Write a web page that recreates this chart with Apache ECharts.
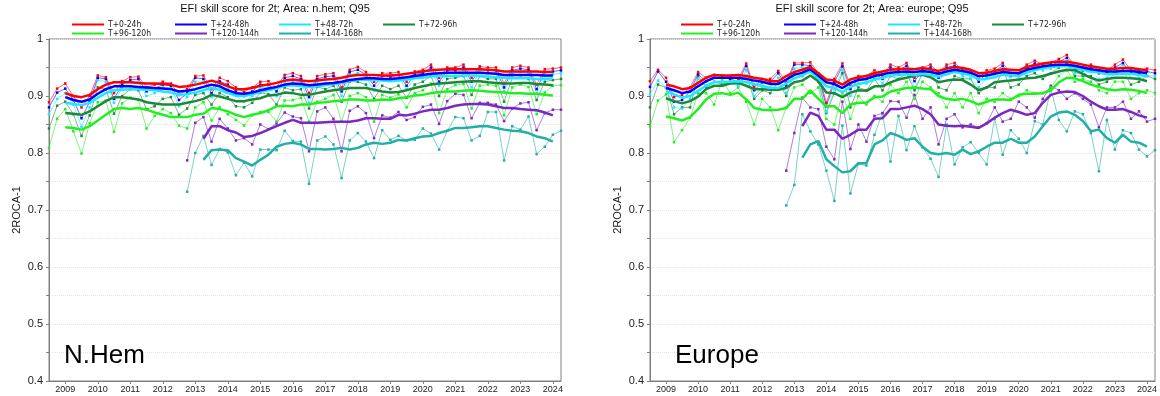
<!DOCTYPE html>
<html>
<head>
<meta charset="utf-8">
<script src="https://cdn.jsdelivr.net/npm/echarts@6/dist/echarts.min.js"></script>
<style>
html,body{margin:0;padding:0;background:#fff;}
#chart{width:1160px;height:396px;}
</style>
</head>
<body>
<div id="chart"></div>
<script>
// ---------- labels ----------
const LEADS = ['T+0-24h','T+24-48h','T+48-72h','T+72-96h','T+96-120h','T+120-144h','T+144-168h'];
const YEARS = [2009,2010,2011,2012,2013,2014,2015,2016,2017,2018,2019,2020,2021,2022,2023,2024];
const TITLE_NH = 'EFI skill score for 2t; Area: n.hem; Q95';
const TITLE_EU = 'EFI skill score for 2t; Area: europe; Q95';
const PANEL_NH = 'N.Hem';
const PANEL_EU = 'Europe';
const Y_NAME = '2ROCA-1';

// seasonal (quarterly) time stamps of first values
const THIN_START_EARLY = 2008.5;   // T+0..T+120 seasonal values
const THIN_START_LATE = 2012.75;   // T+120-144h, T+144-168h seasonal values
const MEAN_START_EARLY = 2009.0;   // running annual means
const MEAN_START_LATE = 2013.25;
const STEP = 0.25;

// ---------- N.Hem seasonal values ----------
const NH_T0 = [.889,.913,.922,.900,.880,.900,.936,.933,.905,.926,.933,.934,.915,.920,.925,.922,.902,.912,.935,.936,.912,.932,.926,.915,.907,.915,.925,.926,.915,.937,.940,.935,.905,.935,.938,.940,.915,.946,.951,.942,.925,.940,.940,.942,.925,.943,.946,.955,.932,.950,.950,.955,.932,.952,.950,.950,.922,.950,.953,.950,.920,.947,.948,.950];
const NH_T24 = [.880,.906,.913,.893,.861,.890,.932,.930,.895,.920,.928,.930,.908,.913,.920,.918,.893,.905,.932,.930,.905,.926,.920,.908,.900,.908,.920,.920,.908,.932,.935,.930,.898,.930,.934,.935,.908,.942,.946,.937,.918,.935,.934,.937,.918,.938,.940,.950,.925,.945,.945,.950,.925,.948,.945,.945,.915,.945,.948,.946,.912,.942,.943,.945];
const NH_T48 = [.868,.895,.905,.885,.846,.880,.928,.925,.888,.915,.925,.925,.900,.905,.915,.915,.882,.898,.925,.925,.898,.920,.912,.900,.890,.900,.915,.915,.900,.925,.925,.925,.888,.925,.928,.930,.900,.938,.940,.932,.910,.930,.928,.932,.912,.932,.935,.945,.918,.940,.940,.945,.915,.945,.940,.940,.908,.940,.942,.940,.905,.935,.938,.940];
const NH_T72 = [.843,.883,.890,.868,.830,.866,.915,.912,.869,.900,.912,.910,.877,.882,.895,.898,.867,.878,.902,.905,.885,.905,.898,.882,.880,.888,.906,.903,.885,.915,.910,.912,.878,.916,.912,.918,.890,.925,.925,.920,.895,.918,.912,.918,.897,.920,.925,.935,.900,.930,.932,.935,.902,.935,.930,.930,.890,.932,.932,.930,.893,.925,.928,.930];
const NH_T96 = [.809,.860,.877,.838,.799,.852,.889,.892,.837,.887,.897,.893,.843,.865,.877,.870,.848,.843,.880,.889,.857,.880,.868,.858,.848,.866,.872,.872,.855,.892,.893,.897,.855,.890,.895,.902,.855,.900,.905,.898,.855,.902,.897,.903,.880,.905,.910,.922,.870,.912,.919,.921,.878,.918,.920,.918,.866,.915,.920,.916,.868,.906,.918,.919];
const NH_T120 = [.787,.853,.863,.820,.860,.843,.822,.826,.815,.850,.842,.852,.871,.864,.861,.803,.873,.880,.860,.803,.874,.882,.870,.826,.866,.862,.872,.858,.863,.881,.885,.851,.891,.904,.902,.861,.888,.888,.885,.856,.878,.887,.889,.840,.870,.876,.876];
const NH_T144 = [.732,.800,.830,.779,.807,.801,.761,.783,.759,.806,.806,.805,.839,.821,.820,.746,.822,.829,.815,.756,.822,.835,.820,.791,.840,.823,.830,.822,.823,.843,.834,.806,.839,.863,.861,.822,.830,.872,.872,.787,.847,.841,.864,.798,.811,.832,.839];

// ---------- N.Hem running annual means ----------
const NH_M0 = [.905,.900,.898,.902,.912,.920,.924,.924,.924,.923,.922,.922,.921,.920,.916,.917,.920,.923,.927,.923,.917,.912,.912,.914,.918,.920,.923,.927,.929,.927,.926,.927,.929,.930,.932,.935,.937,.937,.937,.936,.936,.937,.939,.941,.943,.945,.946,.947,.947,.947,.947,.947,.946,.945,.943,.943,.943,.943,.943,.942,.942];
const NH_M24 = [.898,.893,.890,.894,.904,.912,.917,.917,.917,.916,.915,.914,.913,.912,.908,.909,.912,.916,.920,.917,.910,.905,.904,.906,.910,.913,.916,.920,.922,.921,.919,.920,.922,.923,.925,.928,.930,.931,.931,.930,.930,.931,.933,.935,.937,.939,.940,.941,.941,.941,.941,.941,.940,.939,.937,.937,.937,.937,.937,.936,.936];
const NH_M48 = [.888,.886,.884,.888,.897,.905,.910,.911,.912,.912,.911,.910,.908,.906,.902,.903,.906,.910,.914,.911,.905,.901,.900,.903,.907,.910,.914,.918,.919,.917,.916,.917,.919,.921,.923,.926,.928,.929,.928,.927,.926,.927,.929,.931,.932,.934,.935,.935,.935,.936,.936,.935,.934,.933,.932,.931,.931,.931,.930,.930,.931];
const NH_M72 = [.870,.869,.867,.873,.882,.891,.898,.898,.896,.894,.889,.887,.885,.885,.885,.888,.891,.895,.902,.899,.895,.891,.891,.894,.896,.901,.902,.906,.905,.902,.902,.905,.908,.910,.912,.914,.914,.914,.911,.908,.906,.907,.910,.914,.917,.920,.922,.923,.924,.925,.926,.926,.924,.923,.922,.922,.923,.923,.921,.920,.919];
const NH_M96 = [.845,.844,.841,.847,.857,.867,.877,.879,.877,.879,.876,.871,.867,.863,.863,.863,.867,.869,.879,.877,.873,.867,.863,.867,.870,.875,.882,.883,.882,.885,.885,.888,.889,.891,.892,.894,.894,.892,.892,.894,.893,.896,.898,.901,.902,.905,.907,.908,.908,.909,.910,.909,.908,.907,.906,.905,.905,.904,.904,.902,.901];
const NH_M120 = [.825,.847,.847,.840,.836,.828,.830,.835,.841,.847,.853,.858,.853,.853,.853,.854,.855,.855,.855,.857,.861,.861,.860,.860,.867,.866,.869,.873,.876,.876,.879,.883,.885,.886,.886,.885,.882,.879,.879,.877,.876,.875,.871,.866];
const NH_M144 = [.788,.805,.806,.805,.791,.785,.778,.788,.797,.811,.816,.818,.815,.807,.807,.806,.807,.809,.806,.809,.815,.818,.816,.818,.823,.822,.826,.829,.830,.835,.839,.844,.844,.845,.847,.847,.844,.841,.839,.838,.835,.829,.826,.820];

// ---------- Europe seasonal values ----------
const EU_T0 = [.926,.946,.932,.898,.902,.915,.942,.932,.937,.936,.935,.930,.957,.916,.930,.930,.944,.925,.958,.958,.959,.940,.888,.930,.957,.918,.935,.935,.945,.935,.955,.950,.958,.932,.950,.955,.940,.955,.958,.945,.945,.930,.945,.948,.958,.940,.940,.955,.962,.955,.958,.965,.972,.952,.950,.955,.945,.945,.955,.964,.945,.945,.948,.945];
const EU_T24 = [.916,.943,.925,.890,.893,.908,.938,.926,.932,.932,.930,.925,.953,.910,.924,.925,.940,.918,.955,.955,.953,.935,.882,.924,.952,.912,.930,.930,.940,.930,.950,.945,.953,.926,.945,.950,.932,.950,.953,.940,.940,.925,.940,.943,.953,.935,.935,.950,.957,.950,.953,.960,.967,.947,.945,.950,.940,.940,.950,.958,.940,.940,.943,.940];
const EU_T48 = [.903,.927,.915,.880,.878,.895,.930,.918,.925,.925,.922,.918,.945,.900,.915,.915,.932,.905,.948,.950,.948,.928,.872,.912,.945,.900,.922,.922,.935,.922,.945,.940,.948,.915,.938,.945,.925,.945,.948,.935,.930,.915,.932,.938,.948,.928,.928,.945,.953,.945,.948,.955,.962,.940,.938,.943,.930,.932,.945,.955,.932,.932,.936,.935];
const EU_T72 = [.880,.920,.915,.868,.880,.880,.935,.915,.925,.920,.925,.920,.935,.895,.910,.905,.925,.900,.940,.935,.945,.925,.870,.905,.940,.880,.915,.910,.930,.910,.935,.930,.940,.910,.940,.945,.915,.910,.935,.930,.930,.905,.915,.915,.945,.915,.920,.935,.940,.930,.940,.950,.958,.935,.935,.935,.920,.925,.940,.945,.920,.925,.935,.930];
const EU_T96 = [.847,.892,.903,.819,.840,.862,.905,.905,.885,.928,.905,.915,.890,.850,.895,.880,.840,.880,.915,.920,.905,.915,.860,.850,.905,.860,.900,.885,.900,.890,.920,.905,.925,.895,.925,.915,.905,.880,.905,.880,.905,.870,.895,.890,.905,.895,.900,.910,.905,.905,.915,.935,.945,.925,.930,.925,.910,.905,.925,.925,.895,.905,.910,.905];
const EU_T120 = [.769,.835,.897,.880,.877,.811,.789,.890,.807,.850,.820,.865,.870,.891,.890,.862,.902,.860,.880,.815,.860,.868,.845,.850,.845,.852,.880,.855,.860,.890,.880,.862,.895,.918,.910,.895,.905,.895,.885,.845,.880,.880,.890,.860,.873,.855,.860];
const EU_T144 = [.708,.744,.868,.838,.815,.769,.716,.848,.729,.781,.778,.832,.870,.785,.865,.805,.847,.810,.790,.758,.850,.780,.810,.819,.800,.780,.860,.797,.840,.825,.800,.856,.850,.912,.858,.838,.873,.868,.835,.768,.858,.806,.840,.835,.806,.794,.805];

// ---------- Europe running annual means ----------
const EU_M0 = [.920,.917,.912,.914,.923,.932,.937,.936,.936,.937,.935,.932,.930,.926,.926,.935,.942,.946,.951,.940,.929,.927,.920,.929,.933,.935,.940,.943,.946,.947,.948,.947,.949,.947,.944,.948,.951,.949,.946,.940,.941,.944,.947,.946,.945,.951,.954,.957,.959,.960,.960,.958,.955,.952,.950,.948,.948,.949,.949,.947,.945];
const EU_M24 = [.914,.910,.905,.908,.917,.926,.932,.932,.932,.932,.930,.927,.925,.921,.921,.929,.937,.941,.947,.936,.924,.921,.914,.923,.928,.930,.935,.938,.941,.942,.943,.942,.944,.942,.939,.943,.946,.944,.941,.935,.936,.939,.942,.941,.940,.946,.949,.952,.954,.955,.955,.953,.950,.947,.945,.943,.943,.944,.944,.942,.940];
const EU_M48 = [.908,.903,.897,.900,.909,.918,.924,.925,.925,.926,.924,.921,.918,.914,.914,.922,.931,.936,.943,.931,.917,.914,.907,.916,.921,.924,.929,.932,.936,.937,.938,.937,.939,.937,.934,.938,.942,.940,.936,.929,.930,.933,.937,.936,.935,.941,.945,.949,.951,.952,.952,.950,.946,.943,.941,.938,.938,.939,.939,.937,.935];
const EU_M72 = [.896,.891,.887,.891,.899,.912,.918,.918,.922,.923,.918,.912,.912,.911,.911,.914,.924,.927,.936,.926,.906,.905,.898,.906,.910,.909,.917,.917,.924,.929,.932,.936,.937,.933,.924,.927,.929,.928,.920,.910,.915,.924,.926,.927,.929,.931,.932,.935,.939,.943,.946,.945,.939,.932,.927,.930,.932,.932,.931,.930,.926];
const EU_M96 = [.864,.861,.857,.863,.877,.894,.904,.905,.902,.906,.894,.879,.876,.875,.876,.879,.895,.895,.910,.895,.882,.882,.870,.885,.888,.888,.898,.899,.908,.911,.914,.915,.913,.912,.900,.895,.893,.895,.891,.885,.890,.894,.894,.893,.902,.904,.904,.905,.910,.924,.932,.931,.926,.920,.916,.912,.910,.912,.911,.909,.905];
const EU_M120 = [.847,.871,.865,.841,.841,.825,.832,.841,.841,.860,.861,.877,.877,.880,.883,.877,.868,.850,.848,.847,.848,.846,.844,.852,.862,.870,.876,.872,.867,.870,.888,.902,.906,.908,.907,.900,.890,.882,.876,.876,.877,.872,.866,.862];
const EU_M144 = [.792,.815,.821,.789,.777,.766,.768,.782,.782,.815,.822,.835,.830,.823,.826,.811,.800,.798,.800,.797,.806,.798,.803,.811,.818,.818,.825,.818,.818,.829,.847,.864,.871,.873,.867,.856,.838,.841,.826,.818,.832,.820,.818,.811];

// ---------- styles ----------
const COLORS = ['#ff0000','#0000ff','#1ee8ff','#1a8a3a','#22ee22','#7a28c0','#22b0a6'];
const FONT = "'Liberation Sans', Arial, sans-serif";
const NARROW = "'Liberation Sans Narrow', 'DejaVu Sans Condensed', 'Liberation Sans', sans-serif";

const panels = [
  {thin:[NH_T0,NH_T24,NH_T48,NH_T72,NH_T96,NH_T120,NH_T144], mean:[NH_M0,NH_M24,NH_M48,NH_M72,NH_M96,NH_M120,NH_M144]},
  {thin:[EU_T0,EU_T24,EU_T48,EU_T72,EU_T96,EU_T120,EU_T144], mean:[EU_M0,EU_M24,EU_M48,EU_M72,EU_M96,EU_M120,EU_M144]}
];

function toPoints(values, start){ return values.map((v,i)=>[start + i*STEP, v]); }

const series = [];
panels.forEach((pan, p) => {
  for (let i = LEADS.length - 1; i >= 0; i--) {
    const late = i >= 5;
    series.push({
      type:'line', name:LEADS[i], xAxisIndex:p, yAxisIndex:p,
      data: toPoints(pan.thin[i], late ? THIN_START_LATE : THIN_START_EARLY),
      symbol:'rect', symbolSize:2.5, showSymbol:true,
      lineStyle:{width:0.7, color:COLORS[i], opacity:0.85},
      itemStyle:{color:COLORS[i]},
      z:2, silent:true, animation:false
    });
  }
  for (let i = LEADS.length - 1; i >= 0; i--) {
    const late = i >= 5;
    series.push({
      type:'line', name:LEADS[i], xAxisIndex:p, yAxisIndex:p,
      data: toPoints(pan.mean[i], late ? MEAN_START_LATE : MEAN_START_EARLY),
      symbol:'none', showSymbol:false,
      lineStyle:{width:2.5, color:COLORS[i]},
      itemStyle:{color:COLORS[i]},
      z:3, silent:true, animation:false
    });
  }
});

function yLabel(v){
  const n = Math.round(v*100);
  if (n % 10 !== 0) return '';
  if (n === 100) return '1';
  return (n/100).toFixed(1);
}

function xAxis(gi){
  return {
    type:'value', gridIndex:gi, min:2008.5, max:2024.25,
    axisLine:{show:true, lineStyle:{color:'#808080', width:1}},
    axisTick:{show:true, length:3, customValues:YEARS, lineStyle:{color:'#808080'}},
    axisLabel:{customValues:YEARS, fontSize:9, color:'#222', fontFamily:FONT, margin:4, formatter:v=>String(Math.round(v))},
    splitLine:{show:false}
  };
}
function yAxis(gi){
  return {
    type:'value', gridIndex:gi, min:0.4, max:1, interval:0.05,
    name:Y_NAME, nameLocation:'middle', nameGap:27, nameRotate:90,
    nameTextStyle:{fontSize:11, color:'#222', fontFamily:FONT},
    axisLine:{show:true, lineStyle:{color:'#808080', width:1}},
    axisTick:{show:true, length:3, lineStyle:{color:'#808080'}},
    axisLabel:{formatter:yLabel, fontSize:11, color:'#222', fontFamily:FONT, margin:6},
    splitLine:{show:true, lineStyle:{color:'#e4e4e4', type:'dotted', width:1}}
  };
}

// legend columns: [x offset of line start, items]
const LEG_COLS = [[0,[0,4]],[103,[1,5]],[207,[2,6]],[311,[3]]];
const LEG_LEFT = [72, 681];
const legends = [];
LEG_LEFT.forEach(base => {
  LEG_COLS.forEach(([dx, idx]) => {
    legends.push({
      orient:'vertical', left:base+dx, top:20, padding:0, itemGap:0,
      itemWidth:32, itemHeight:2, icon:'rect', selectedMode:false,
      data: idx.map(k=>LEADS[k]),
      textStyle:{fontSize:8.5, lineHeight:7, color:'#222', fontFamily:NARROW, padding:[0,0,0,-1]}
    });
  });
});

const chart = echarts.init(document.getElementById('chart'), null, {renderer:'canvas'});
chart.setOption({
  animation:false,
  backgroundColor:'#fff',
  title:[
    {text:TITLE_NH, left:275, top:3, padding:0, textAlign:'center', textStyle:{fontSize:11, fontWeight:'normal', color:'#111', fontFamily:FONT}},
    {text:TITLE_EU, left:872, top:3, padding:0, textAlign:'center', textStyle:{fontSize:11, fontWeight:'normal', color:'#111', fontFamily:FONT}},
    {text:PANEL_NH, left:64, top:343, padding:0, textStyle:{fontSize:26, fontWeight:'normal', color:'#000', fontFamily:FONT}},
    {text:PANEL_EU, left:675, top:343, padding:0, textStyle:{fontSize:26, fontWeight:'normal', color:'#000', fontFamily:FONT}}
  ],
  legend:legends,
  grid:[
    {left:49, top:39, width:512, height:342, show:true, borderColor:'#808080', borderWidth:1, backgroundColor:'transparent'},
    {left:650, top:39, width:512, height:342, show:true, borderColor:'#808080', borderWidth:1, backgroundColor:'transparent'}
  ],
  xAxis:[xAxis(0), xAxis(1)],
  yAxis:[yAxis(0), yAxis(1)],
  series:series
});
</script>
</body>
</html>
